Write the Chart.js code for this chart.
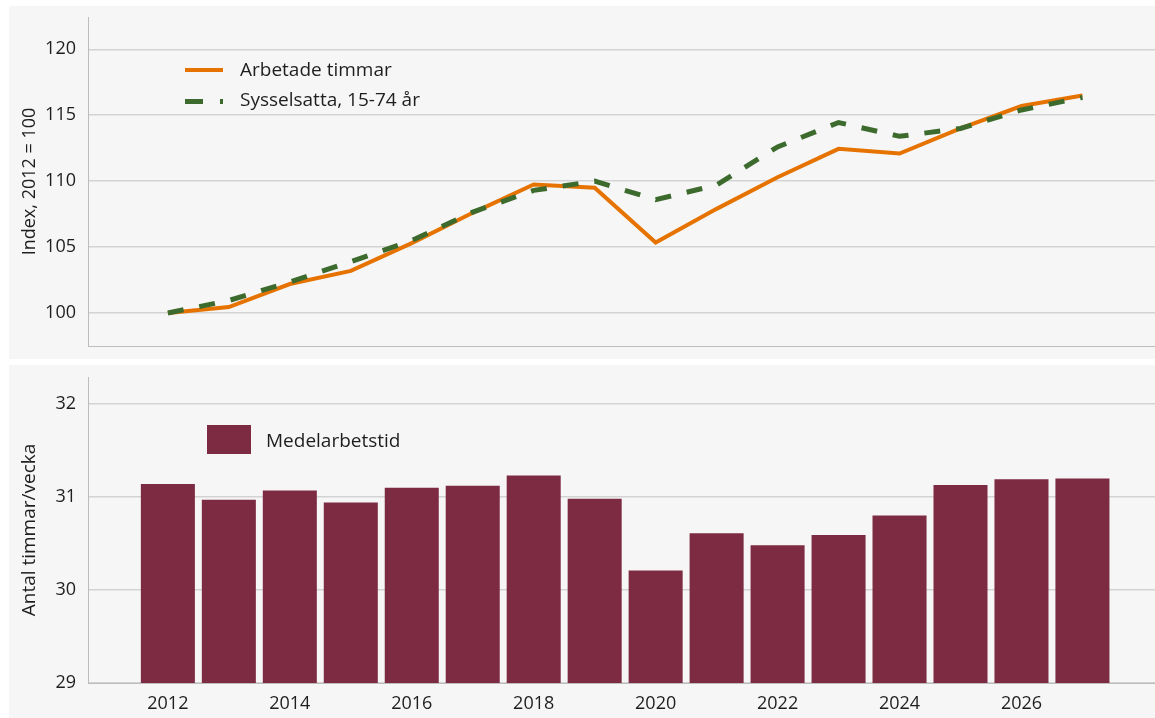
<!DOCTYPE html>
<html lang="sv">
<head>
  <meta charset="UTF-8">
  <title>Arbetade timmar, sysselsatta och medelarbetstid</title>
  <script src="https://cdn.jsdelivr.net/npm/chart.js"></script>
  <style>
    body { margin: 0; background: #fff; font-family: "Open Sans", sans-serif; color: #1e1e1e; }
    .panel { position: absolute; left: 9px; width: 1146px; height: 353px; background: #f6f6f6; }
    #topPanel { top: 6px; }
    #bottomPanel { top: 365px; }
    .panel canvas { position: absolute; left: 0; top: 0; }
    .lg-text { position: absolute; font-size: 19px; line-height: 22px; white-space: nowrap; }
    .lg-mark { position: absolute; }
  </style>
</head>
<body>
  <div class="panel" id="topPanel">
    <canvas id="indexChart" width="1146" height="353"></canvas>
    <!-- legend -->
    <div class="lg-mark" style="left:176px; top:62px; width:38px; height:4px; background:#e67300;"></div>
    <div class="lg-text" style="left:231px; top:52px;">Arbetade timmar</div>
    <div class="lg-mark" style="left:176px; top:93px; width:18px; height:5px; background:#3d6b2e;"></div>
    <div class="lg-mark" style="left:211px; top:93px; width:3px; height:5px; background:#3d6b2e;"></div>
    <div class="lg-text" style="left:231px; top:82px;">Sysselsatta, 15-74 år</div>
  </div>
  <div class="panel" id="bottomPanel">
    <canvas id="hoursChart" width="1146" height="353"></canvas>
    <div class="lg-mark" style="left:198px; top:60px; width:44px; height:29px; background:#7c2b42;"></div>
    <div class="lg-text" style="left:257px; top:64px;">Medelarbetstid</div>
  </div>

  <script>
    // Data
    const years = [2012, 2013, 2014, 2015, 2016, 2017, 2018, 2019, 2020, 2021, 2022, 2023, 2024, 2025, 2026, 2027];
    const arbetadeTimmar = [100, 100.45, 102.2, 103.2, 105.3, 107.6, 109.75, 109.5, 105.35, 107.9, 110.3, 112.45, 112.1, 114.0, 115.7, 116.5];
    const sysselsatta = [100, 100.95, 102.35, 103.9, 105.5, 107.65, 109.3, 110.0, 108.6, 109.7, 112.6, 114.45, 113.4, 114.0, 115.4, 116.35];
    const medelarbetstid = [31.14, 30.97, 31.07, 30.94, 31.10, 31.12, 31.23, 30.98, 30.21, 30.61, 30.48, 30.59, 30.80, 31.13, 31.19, 31.20];
    const xTickYears = [2012, 2014, 2016, 2018, 2020, 2022, 2024, 2026];
    const indexTicks = [100, 105, 110, 115, 120];
    const hourTicks = [29, 30, 31, 32];

    const font = { family: '"Open Sans", sans-serif', size: 18 };
    const gridColor = '#d3d3d3';
    const axisColor = '#bdbdbd';

    // shared x range so both panels line up
    const X_MIN = 2010.69, X_MAX = 2028.19;

    function fixWidth(w) {
      return function (scale) {
        scale.width = w;
        scale.paddingTop = 0; scale.paddingBottom = 0;
        scale.paddingLeft = 0; scale.paddingRight = 0;
      };
    }
    function fixHeight(h) {
      return function (scale) {
        scale.height = h;
        scale.paddingTop = 0; scale.paddingBottom = 0;
        scale.paddingLeft = 0; scale.paddingRight = 0;
      };
    }
    function setTicks(list) {
      return function (scale) { scale.ticks = list.map(v => ({ value: v })); };
    }

    Chart.defaults.font.family = font.family;
    Chart.defaults.color = '#1e1e1e';

    // Top panel: index lines
    new Chart(document.getElementById('indexChart'), {
      type: 'line',
      data: {
        datasets: [
          {
            label: 'Arbetade timmar',
            data: years.map((y, i) => ({ x: y, y: arbetadeTimmar[i] })),
            borderColor: '#e67300',
            borderWidth: 4,
            pointRadius: 0,
            tension: 0,
            order: 1
          },
          {
            label: 'Sysselsatta, 15-74 år',
            data: years.map((y, i) => ({ x: y, y: sysselsatta[i] })),
            borderColor: '#3d6b2e',
            borderWidth: 5,
            borderDash: [16, 16],
            borderCapStyle: 'butt',
            pointRadius: 0,
            tension: 0,
            order: 0
          }
        ]
      },
      options: {
        responsive: false,
        animation: false,
        layout: { padding: { top: 11, right: 0, left: 0, bottom: 0 } },
        plugins: { legend: { display: false }, tooltip: { enabled: false } },
        scales: {
          x: {
            type: 'linear',
            offset: false,
            min: X_MIN,
            max: X_MAX,
            afterBuildTicks: setTicks(xTickYears),
            afterFit: fixHeight(13),
            grid: { color: 'transparent', drawTicks: false },
            border: { color: axisColor, width: 1 },
            ticks: { display: false }
          },
          y: {
            min: 97.5,
            max: 122.45,
            afterBuildTicks: setTicks(indexTicks),
            afterFit: fixWidth(79),
            grid: { color: gridColor, lineWidth: 1.5, drawTicks: false },
            border: { color: axisColor, width: 1 },
            ticks: { font: font, padding: 12 },
            title: {
              display: true,
              text: 'Index, 2012 = 100',
              font: font,
              padding: { top: 10, bottom: 0 }
            }
          }
        }
      }
    });

    // Bottom panel: average hours bars
    new Chart(document.getElementById('hoursChart'), {
      type: 'bar',
      data: {
        datasets: [{
          label: 'Medelarbetstid',
          data: years.map((y, i) => ({ x: y, y: medelarbetstid[i] })),
          backgroundColor: '#7c2b42',
          categoryPercentage: 1,
          barPercentage: 0.886
        }]
      },
      options: {
        responsive: false,
        animation: false,
        layout: { padding: { top: 12, right: 0, left: 0, bottom: 0 } },
        plugins: { legend: { display: false }, tooltip: { enabled: false } },
        scales: {
          x: {
            type: 'linear',
            offset: false,
            min: X_MIN,
            max: X_MAX,
            afterBuildTicks: setTicks(xTickYears),
            afterFit: fixHeight(35),
            grid: { color: 'transparent', drawTicks: false, offset: false },
            border: { color: axisColor, width: 1 },
            ticks: { font: font, padding: 10, maxRotation: 0, callback: v => String(v) }
          },
          y: {
            min: 29,
            max: 32.29,
            afterBuildTicks: setTicks(hourTicks),
            afterFit: fixWidth(79),
            grid: { color: gridColor, lineWidth: 1.5, drawTicks: false },
            border: { color: axisColor, width: 1 },
            ticks: { font: font, padding: 12 },
            title: {
              display: true,
              text: 'Antal timmar/vecka',
              font: { family: font.family, size: 19 },
              padding: { top: 9, bottom: 0 }
            }
          }
        }
      }
    });
  </script>
</body>
</html>
